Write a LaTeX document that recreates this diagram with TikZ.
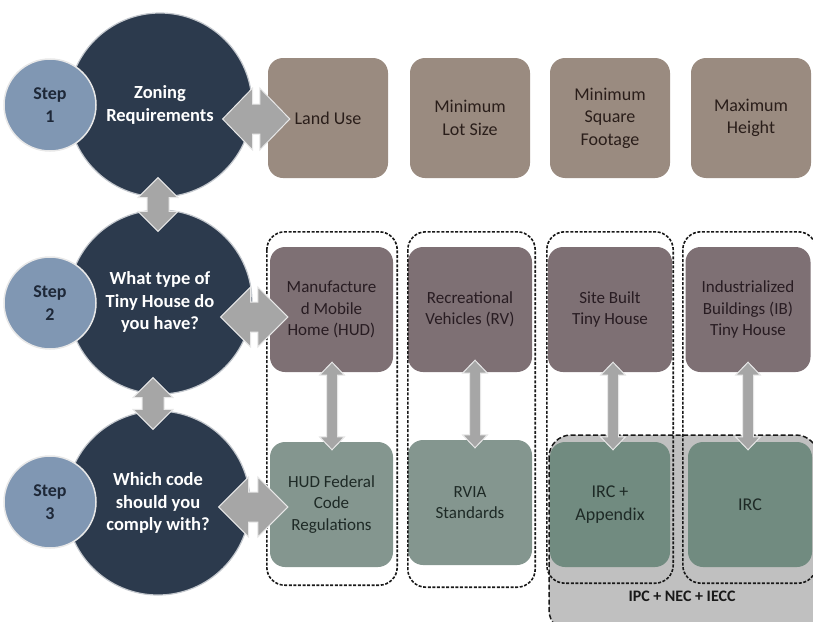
\documentclass[tikz,border=0pt]{standalone}
\usepackage{fontspec}
\setmainfont{Carlito}
\usetikzlibrary{calc}
\definecolor{navy}{RGB}{44,58,77}
\definecolor{ringgrey}{RGB}{196,200,206}
\definecolor{stepblue}{RGB}{128,151,179}
\definecolor{stepnavy}{RGB}{30,40,56}
\definecolor{brownbox}{RGB}{154,139,128}
\definecolor{browntext}{RGB}{42,30,26}
\definecolor{mauvebox}{RGB}{126,112,116}
\definecolor{mauvetext}{RGB}{40,28,34}
\definecolor{sagebox}{RGB}{132,150,143}
\definecolor{ircbox}{RGB}{113,139,128}
\definecolor{sagetext}{RGB}{30,42,38}
\definecolor{ipcgrey}{RGB}{192,192,192}
\definecolor{arrowgrey}{RGB}{166,166,166}
\definecolor{arrowedge}{RGB}{232,232,232}
\definecolor{dashdark}{RGB}{25,25,25}
\newcommand\HArrow[5]{%
  \path[bigarrow] let \p1=#1, \p2=#2 in
   (\x1,\y1) -- (\x1+#5,\y1+#3) -- (\x1+#5,\y1+#4) -- (\x2-#5,\y1+#4) -- (\x2-#5,\y1+#3)
   -- (\x2,\y1) -- (\x2-#5,\y1-#3) -- (\x2-#5,\y1-#4) -- (\x1+#5,\y1-#4) -- (\x1+#5,\y1-#3) -- cycle;}
\newcommand\VArrow[5]{%
  \path[bigarrow] let \p1=#1, \p2=#2 in
   (\x1,\y1) -- (\x1+#3,\y1-#5) -- (\x1+#4,\y1-#5) -- (\x1+#4,\y2+#5) -- (\x1+#3,\y2+#5)
   -- (\x1,\y2) -- (\x1-#3,\y2+#5) -- (\x1-#4,\y2+#5) -- (\x1-#4,\y1-#5) -- (\x1-#3,\y1-#5) -- cycle;}
\tikzset{
  bigc/.style={circle, fill=navy, draw=ringgrey, line width=1.2pt, minimum size=184pt, inner sep=0pt,
    text=white, font=\bfseries\fontsize{18.5}{22.5}\selectfont, align=center},
  stepc/.style={circle, fill=stepblue, draw=arrowedge, line width=1.5pt, minimum size=92pt, inner sep=0pt,
    text=stepnavy, font=\bfseries\fontsize{18}{22.5}\selectfont, align=center},
  zbox/.style={rounded corners=15pt, fill=brownbox, minimum width=120pt, minimum height=120pt, inner sep=0pt,
    text=browntext, font=\fontsize{18}{22.5}\selectfont, align=center},
  tbox/.style={rounded corners=15pt, fill=mauvebox, minimum width=124pt, minimum height=125pt, inner sep=0pt,
    text=mauvetext, font=\fontsize{17}{21.5}\selectfont, align=center},
  cbox/.style={rounded corners=15pt, fill=sagebox, minimum width=124pt, minimum height=125pt, inner sep=0pt,
    text=sagetext, font=\fontsize{17}{21.5}\selectfont, align=center},
  dashcol/.style={draw=dashdark, line width=1.6pt, dash pattern=on 3pt off 1.6pt, rounded corners=18pt},
  ipcregion/.style={fill=ipcgrey, draw=dashdark, line width=1.5pt, dash pattern=on 5pt off 2.5pt, rounded corners=22pt},
  bigarrow/.style={fill=arrowgrey, draw=arrowedge, line width=1pt},
}
\begin{document}
\begin{tikzpicture}[x=1pt,y=-1pt]
\useasboundingbox (0,0) rectangle (813,621);
\clip (0,0) rectangle (813,621);
% big circles
\node[bigc] (big1) at (160,105) {Zoning\\Requirements};
\node[bigc] (big2) at (160,302) {What type of\\Tiny House do\\you have?};
\node[bigc] (big3) at (158,503) {Which code\\should you\\comply with?};
% step circles
\node[stepc] (step1) at (50,105) {Step\\1};
\node[stepc] (step2) at (50,303) {Step\\2};
\node[stepc] (step3) at (50,502) {Step\\3};
% IPC region
\path[ipcregion] (549,435) rectangle (818,632);
\node[font=\bfseries\fontsize{16}{19}\selectfont, text=dashdark] (ipc) at (682,596) {IPC + NEC + IECC};
% top row
\node[zbox] (land) at (328,118) {Land Use};
\node[zbox] (lot) at (470,118) {Minimum\\Lot Size};
\node[zbox] (sqft) at (610,118) {Minimum\\Square\\Footage};
\node[zbox] (height) at (751,118) {Maximum\\Height};
% middle row
\node[tbox, minimum width=123pt] (man) at (331.5,309.5) {Manufacture\\d Mobile\\Home (HUD)};
\node[tbox] (rv) at (470,309.5) {Recreational\\Vehicles (RV)};
\node[tbox] (site) at (610,309.5) {Site Built\\Tiny House};
\node[tbox, minimum width=125pt] (ib) at (748,309.5) {Industrialized\\Buildings (IB)\\Tiny House};
% bottom row
\node[cbox, minimum width=123pt] (hud) at (331.5,504.5) {HUD Federal\\Code\\Regulations};
\node[cbox] (rvia) at (470,502.5) {RVIA\\Standards};
\node[cbox, fill=ircbox, minimum width=120pt, font=\fontsize{18}{22.5}\selectfont] (irca) at (610,504.5) {IRC +\\Appendix};
\node[cbox, fill=ircbox, font=\fontsize{18}{22.5}\selectfont] (irc) at (750,504.5) {IRC};
% dashed columns
\path[dashcol] ($(man.north west)+(-3,-15)$) rectangle ($(hud.south east)+(4,18)$);
\path[dashcol] ($(rv.north west)+(0,-15)$) rectangle ($(rvia.south east)+(3,22)$);
\path[dashcol] ($(site.north west)+(-1,-15)$) rectangle ($(irca.south east)+(3,16)$);
\path[dashcol] ($(ib.north west)+(-2.5,-15)$) rectangle ($(irc.south east)+(4,16)$);
% horizontal arrows
\HArrow{($(big1.east)+(-30,14)$)}{($(land.west)+(22,1)$)}{31pt}{15pt}{30pt}
\HArrow{($(big2.east)+(-32,15)$)}{($(man.west)+(18,7.5)$)}{30pt}{15pt}{30pt}
\HArrow{($(big3.east)+(-32,4)$)}{($(hud.west)+(18,2.5)$)}{30pt}{15pt}{30pt}
% vertical arrows between circles
\VArrow{($(big1.south)+(-2,-20)$)}{($(big2.north)+(-2,22)$)}{20pt}{11pt}{20pt}
\VArrow{($(big2.south)+(-7,-17)$)}{($(big3.north)+(-5,19)$)}{20pt}{11pt}{20pt}
% vertical arrows between boxes
\VArrow{($(man.south)+(0.5,-10)$)}{($(hud.north)+(0.5,8)$)}{12.5pt}{5.5pt}{13pt}
\VArrow{($(rv.south)+(5,-12)$)}{($(rvia.north)+(5,8)$)}{12.5pt}{5.5pt}{13pt}
\VArrow{($(site.south)+(3,-10)$)}{($(irca.north)+(3,8)$)}{12.5pt}{5.5pt}{13pt}
\VArrow{($(ib.south)+(0,-10)$)}{($(irc.north)+(-2,8)$)}{12.5pt}{5.5pt}{13pt}
\end{tikzpicture}
\end{document}
